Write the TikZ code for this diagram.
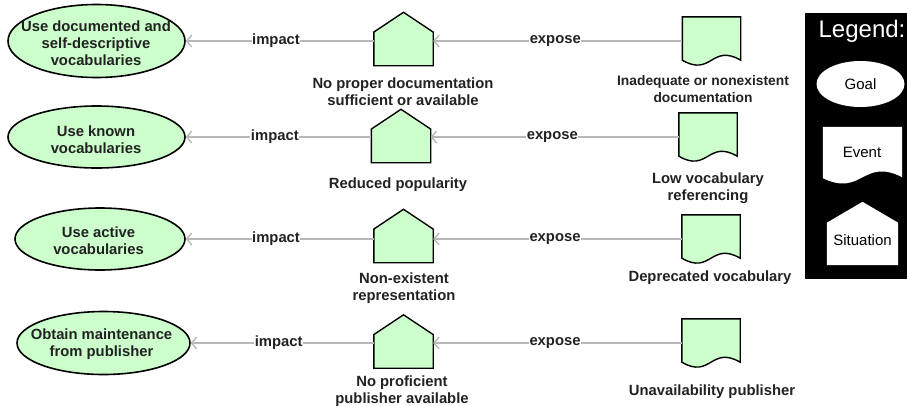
\documentclass[tikz,border=0pt]{standalone}
\usepackage{fontspec}
\setmainfont{Liberation Sans}
\usetikzlibrary{shapes.geometric,arrows.meta,calc}
\definecolor{gfill}{HTML}{CCFFCC}
\definecolor{lgray}{HTML}{B8B8B8}
\definecolor{txt}{HTML}{222222}
\begin{document}
\begin{tikzpicture}[x=1pt,y=-1pt,
  goal/.style={ellipse, draw=black, line width=1.6pt, fill=gfill, inner sep=0},
  lbl/.style={font=\bfseries\fontsize{14.8}{17}\selectfont, text=txt, align=center, inner sep=0},
  sitbox/.style={draw=none, inner sep=0, minimum width=59pt, minimum height=53pt},
  evbox/.style={draw=none, inner sep=0, minimum width=58pt, minimum height=48pt},
  shp/.style={draw=black, line width=1.4pt, fill=gfill, line join=miter},
  legshp/.style={fill=white, draw=none},
  arr/.style={draw=lgray, line width=1.8pt, -{Straight Barb[length=5pt,width=12pt,line width=1.4pt]}},
  conlbl/.style={lbl, fill=white, inner sep=0.5pt},
  legtxt/.style={font=\fontsize{15}{17}\selectfont, text=black, inner sep=0}
]
\useasboundingbox (0,0) rectangle (907,405);
\fill[white] (0,0) rectangle (907,405);

% goals
\node[goal, minimum width=177pt, minimum height=73pt] (g1) at (96.5,41) {};
\node[lbl] (g1t) at (96,43) {Use documented and\\self-descriptive\\vocabularies};
\node[goal, minimum width=177pt, minimum height=62pt] (g2) at (96.5,137) {};
\node[lbl] (g2t) at (96,139.5) {Use known\\vocabularies};
\node[goal, minimum width=170pt, minimum height=62pt] (g3) at (100,239) {};
\node[lbl] (g3t) at (98.5,241) {Use active\\vocabularies};
\node[goal, minimum width=173pt, minimum height=63pt] (g4) at (103.5,343) {};
\node[lbl] (g4t) at (101.5,344.5) {Obtain maintenance\\from publisher};

% situations
\node[sitbox] (s1) at (403.5,39) {};
\node[sitbox] (s2) at (401,136) {};
\node[sitbox] (s3) at (403.5,236) {};
\node[sitbox] (s4) at (403.5,341.5) {};
\foreach \n in {s1,s2,s3,s4}
  \draw[shp] (\n.south west) -- ($(\n.north west)!0.37!(\n.south west)$) -- (\n.north)
    -- ($(\n.north east)!0.37!(\n.south east)$) -- (\n.south east) -- cycle;

% events
\node[evbox] (e1) at (711.5,41) {};
\node[evbox] (e2) at (708,137) {};
\node[evbox] (e3) at (711,239) {};
\node[evbox] (e4) at (711,343) {};
\foreach \n in {e1,e2,e3,e4}
  \draw[shp] ($(\n.south west)+(0,-5)$) -- (\n.north west) -- (\n.north east)
    -- ($(\n.south east)+(0,-5)$) .. controls ($(\n.south)+(0,-22)$) and ($(\n.south)+(0,12)$) .. ($(\n.south west)+(0,-5)$) -- cycle;

% labels
\node[lbl] (s1l) at (403,91.5) {No proper documentation\\sufficient or available};
\node[lbl] (s2l) at (398,185) {Reduced popularity};
\node[lbl] (s3l) at (404,288) {Non-existent\\representation};
\node[lbl] (s4l) at (402,391) {No proficient\\publisher available};
\node[lbl, font=\bfseries\fontsize{13.8}{17}\selectfont] (e1l) at (703,89.5) {Inadequate or nonexistent\\documentation};
\node[lbl] (e2l) at (708,188.5) {Low vocabulary\\referencing};
\node[lbl] (e3l) at (710,278) {Deprecated vocabulary};
\node[lbl] (e4l) at (712,392) {Unavailability publisher};

% connectors
\foreach \i in {1,2,3,4} {
  \draw[arr] (s\i.west |- g\i.east) -- node[conlbl, pos=0.52] {impact} (g\i.east);
  \draw[arr] (e\i.west) -- node[conlbl, pos=0.51] {expose} (s\i.east |- e\i.west);
}

% legend
\node[fill=black, minimum width=102pt, minimum height=266pt, inner sep=0] (leg) at (856,146) {};
\node[text=white, font=\fontsize{24}{28}\selectfont, anchor=base, inner sep=0] (legt) at (862,37) {Legend:};
\node[ellipse, legshp, minimum width=88pt, minimum height=46pt, inner sep=0] (lg) at (860.5,84) {};
\node[legtxt] (lgt) at (lg) {Goal};
\node[draw=none, inner sep=0, minimum width=79pt, minimum height=56pt] (le) at (862.5,155) {};
\fill[white] ($(le.south west)+(0,-5)$) -- (le.north west) -- (le.north east)
    -- ($(le.south east)+(0,-6)$) .. controls ($(le.south)+(0,-26)$) and ($(le.south)+(0,14)$) .. ($(le.south west)+(0,-5)$) -- cycle;
\node[legtxt] (let) at (862,152.5) {Event};
\node[draw=none, inner sep=0, minimum width=71pt, minimum height=63pt] (ls) at (862.5,233.5) {};
\fill[white] (ls.south west) -- ($(ls.north west)!0.33!(ls.south west)$) -- (ls.north)
    -- ($(ls.north east)!0.33!(ls.south east)$) -- (ls.south east) -- cycle;
\node[legtxt] (lst) at (862.5,240.5) {Situation};
\end{tikzpicture}
\end{document}
